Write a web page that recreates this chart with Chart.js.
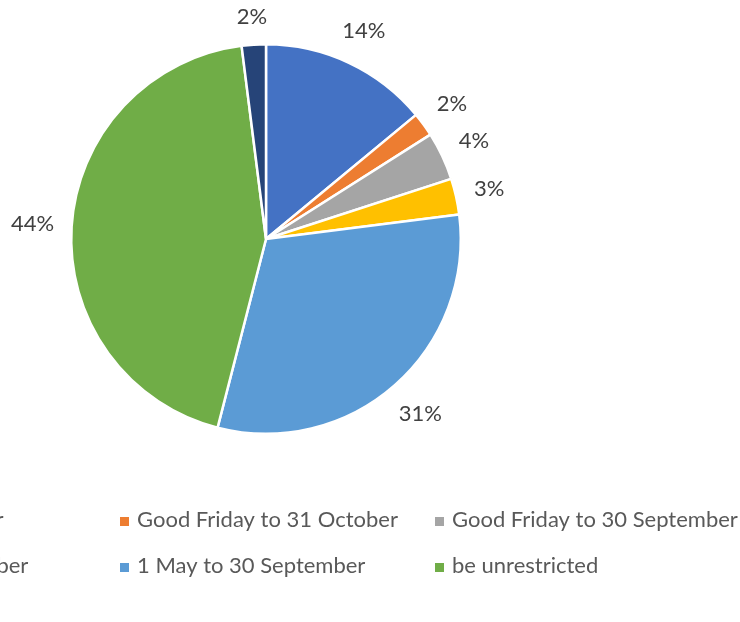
<!DOCTYPE html>
<html>
<head>
<meta charset="utf-8">
<script src="https://cdn.jsdelivr.net/npm/chart.js@4"></script>
<style>
  html, body { margin: 0; padding: 0; background: #fff; overflow: hidden; }
  #pie { display: block; }
</style>
</head>
<body>
<canvas id="pie" width="740" height="622"></canvas>
<script>
// season options and share of responses (%)
const labels = [
  "Easter to 31 October",
  "Good Friday to 31 October",
  "Good Friday to 30 September",
  "Easter to 30 September",
  "1 May to 30 September",
  "be unrestricted",
  "Other"
];
const shares = [14, 2, 4, 3, 31, 44, 2];
const colors = ["#4472C4", "#ED7D31", "#A5A5A5", "#FFC000", "#5B9BD5", "#70AD47", "#264478"];

const FONT = "Lato, 'Open Sans', sans-serif";

// percentage labels just outside each slice
const outsideLabels = {
  id: "outsideLabels",
  afterDatasetsDraw(chart) {
    const ctx = chart.ctx;
    const meta = chart.getDatasetMeta(0);
    ctx.save();
    ctx.font = "22px " + FONT;
    ctx.fillStyle = "#404040";
    ctx.textAlign = "center";
    ctx.textBaseline = "middle";
    meta.data.forEach((arc, i) => {
      const p = arc.getProps(["x", "y", "startAngle", "endAngle", "outerRadius"], true);
      const mid = (p.startAngle + p.endAngle) / 2;
      const text = shares[i] + "%";
      const w = ctx.measureText(text).width;
      const h = 20;
      const c = Math.cos(mid), s = Math.sin(mid);
      const d = p.outerRadius + 17 + Math.abs(c) * w / 2 + Math.abs(s) * h / 2;
      ctx.fillText(text, p.x + c * d, p.y + s * d);
    });
    ctx.restore();
  }
};

// legend in a three-column grid below the pie (first column runs off the left edge)
const gridLegend = {
  id: "gridLegend",
  afterDraw(chart) {
    const ctx = chart.ctx;
    const colX = [-217, 120, 435];
    const rowY = [520, 566, 612];
    ctx.save();
    ctx.font = "22px " + FONT;
    ctx.textAlign = "left";
    ctx.textBaseline = "middle";
    labels.forEach((lab, i) => {
      const x = colX[i % 3];
      const y = rowY[Math.floor(i / 3)];
      ctx.fillStyle = colors[i];
      ctx.fillRect(x, y - 3, 9, 9);
      ctx.fillStyle = "#595959";
      ctx.fillText(lab, x + 17, y);
    });
    ctx.restore();
  }
};

new Chart(document.getElementById("pie"), {
  type: "pie",
  data: {
    labels: labels,
    datasets: [{
      data: shares,
      backgroundColor: colors,
      borderColor: "#ffffff",
      borderWidth: 2.5
    }]
  },
  options: {
    responsive: false,
    animation: false,
    devicePixelRatio: 1,
    layout: { padding: { left: 70, top: 43, right: 278, bottom: 187 } },
    plugins: {
      legend: { display: false },
      tooltip: { enabled: false }
    }
  },
  plugins: [outsideLabels, gridLegend]
});
</script>
</body>
</html>
